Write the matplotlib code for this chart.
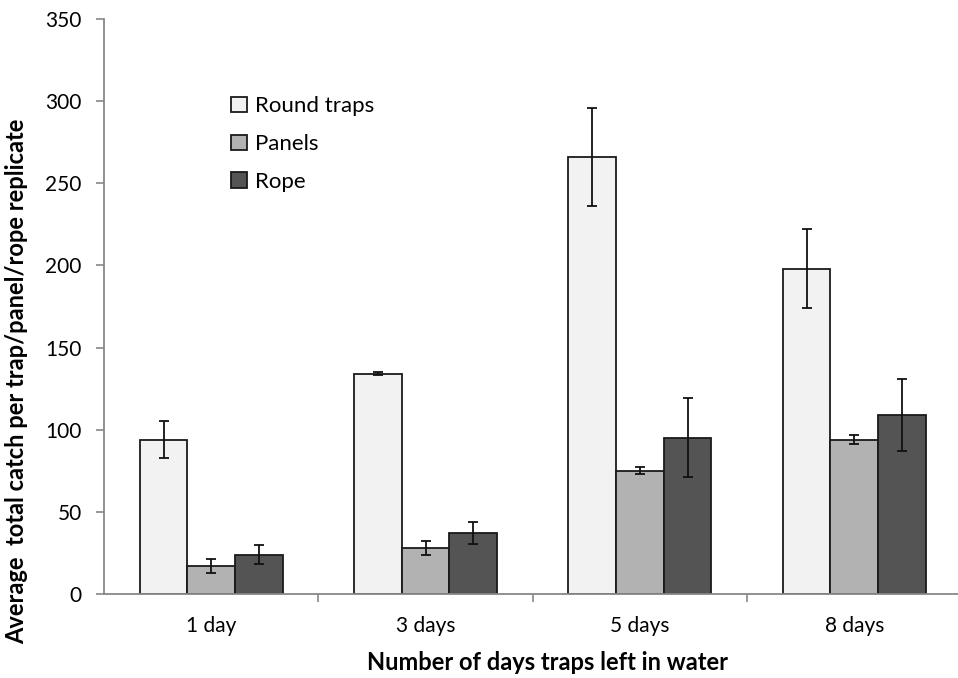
import numpy as np
import matplotlib.pyplot as plt

# values
days = ['1 day', '3 days', '5 days', '8 days']
round_traps = [94, 134, 266, 198]
round_err = [11, 1, 30, 24]
panels = [17, 28, 75, 94]
panels_err = [4, 4, 2, 3]
rope = [24, 37, 95, 109]
rope_err = [6, 6.5, 24, 22]

plt.rcParams['font.family'] = ['Lato', 'DejaVu Sans']

fig = plt.figure(figsize=(9.58, 6.78), dpi=100)
ax = fig.add_axes([0.1086, 0.124, 0.895, 0.848])

x = np.arange(len(days))
w = 1 / 4.5
ekw = dict(elinewidth=1.3, capthick=1.3, ecolor='#111111')
ax.bar(x - w, round_traps, w, yerr=round_err, capsize=3.8, color='#f2f2f2',
       edgecolor='#1a1a1a', linewidth=1.3, label='Round traps', error_kw=ekw)
ax.bar(x, panels, w, yerr=panels_err, capsize=3.8, color='#b2b2b2',
       edgecolor='#1a1a1a', linewidth=1.3, label='Panels', error_kw=ekw)
ax.bar(x + w, rope, w, yerr=rope_err, capsize=3.8, color='#545454',
       edgecolor='#1a1a1a', linewidth=1.3, label='Rope', error_kw=ekw)

ax.set_xlim(-0.5, 3.5)
ax.set_ylim(0, 350)
ax.set_yticks(range(0, 351, 50))
ax.set_xticks(x)
ax.set_xticklabels(days)
ax.set_xticks(np.arange(0.5, 3.5, 1), minor=True)
ax.tick_params(axis='x', which='major', length=0, pad=16, labelsize=15)
ax.tick_params(axis='x', which='minor', length=6, color='#888888', width=1.2)
ax.tick_params(axis='y', length=6, color='#888888', width=1.2, labelsize=15, pad=10)

for s in ['top', 'right']:
    ax.spines[s].set_visible(False)
for s in ['left', 'bottom']:
    ax.spines[s].set_color('#888888')
    ax.spines[s].set_linewidth(1.3)

ax.set_xlabel('Number of days traps left in water', fontsize=17, fontweight='bold')
ax.set_ylabel('Average  total catch per trap/panel/rope replicate', fontsize=17,
              fontweight='bold')
ax.xaxis.set_label_coords(0.517, -0.1)
ax.yaxis.set_label_coords(-0.088, 0.37)

ax.legend(loc='upper left', bbox_to_anchor=(0.125, 0.9), frameon=False, fontsize=16,
          handlelength=0.7, handleheight=0.7, handletextpad=0.35, labelspacing=0.8)

fig.savefig('out.png', dpi=100)
